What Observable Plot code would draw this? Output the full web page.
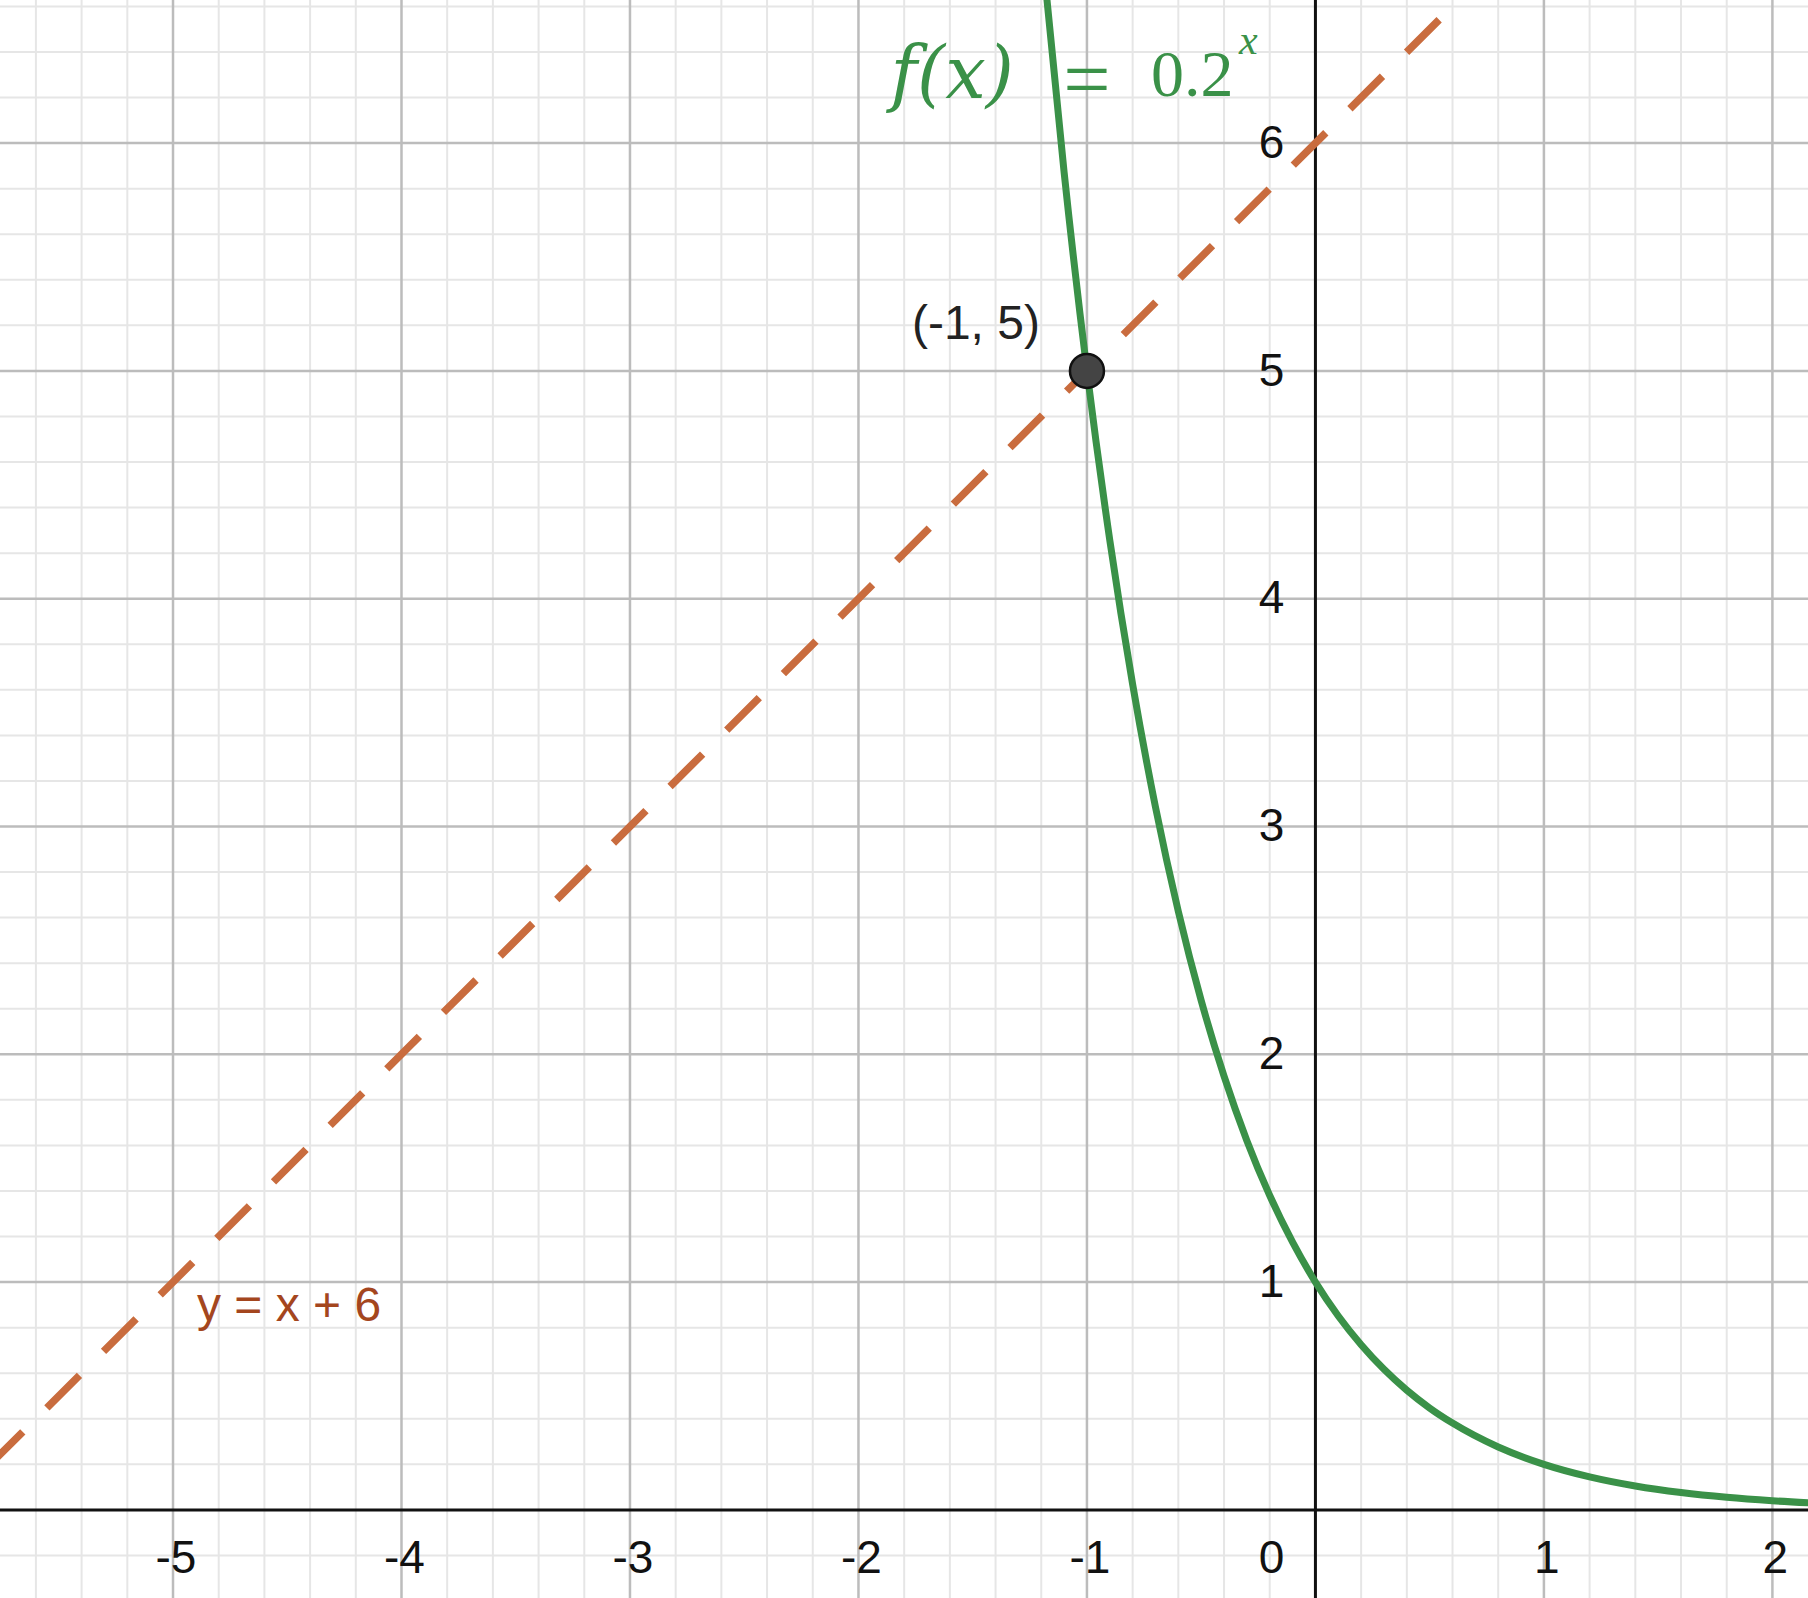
<!DOCTYPE html>
<html>
<head>
<meta charset="utf-8">
<script src="https://cdn.jsdelivr.net/npm/d3@7"></script>
<script src="https://cdn.jsdelivr.net/npm/@observablehq/plot@0.6"></script>
<style>
  html, body { margin: 0; padding: 0; background: #ffffff; }
  #chart svg { display: block; }
</style>
</head>
<body>
<div id="chart"></div>
<script>
// ---- data ----
const xTicks = [-5, -4, -3, -2, -1, 1, 2];
const yTicks = [1, 2, 3, 4, 5, 6];
const originLabel = ["0"];

// f(x) = 0.2^x
const curveX = [-1.18, -1.1, -1.0, -0.9, -0.8, -0.7, -0.6, -0.5, -0.4, -0.3, -0.2, -0.1, 0.0, 0.1, 0.2, 0.3, 0.4, 0.5, 0.6, 0.8, 1.0, 1.2, 1.4, 1.6, 1.8, 2.0, 2.2];
const curveY = [6.68, 5.873, 5.0, 4.257, 3.624, 3.085, 2.627, 2.236, 1.904, 1.621, 1.380, 1.175, 1.0, 0.851, 0.725, 0.617, 0.525, 0.447, 0.381, 0.276, 0.2, 0.145, 0.105, 0.076, 0.055, 0.04, 0.029];

// y = x + 6, dashed line endpoints
const lineX = [-5.8, 0.7];
const lineY = [0.2, 6.7];

// intersection point
const pointX = [-1];
const pointY = [5];
const pointLabel = ["(-1, 5)"];

const lineLabel = ["y = x + 6"];
const lineLabelAt = [{x: -5, y: 1}];

// function label pieces
const fnParts = [
  {x: -1.86, y: 6.30, text: "f(x)", italic: true, size: 72, font: "'DejaVu Serif', serif", anchor: "start"},
  {x: -1.00, y: 6.27, text: "=", italic: false, size: 84, font: "'Liberation Serif', serif", anchor: "middle"},
  {x: -0.72, y: 6.30, text: "0.2", italic: false, size: 66, font: "'Liberation Serif', serif", anchor: "start"},
  {x: -0.335, y: 6.45, text: "x", italic: true, size: 42, font: "'Liberation Serif', serif", anchor: "start"}
];

const xDomain = [-5.755, 2.158];
const yDomain = [-0.389, 6.626];

// ---- table building ----
const curve = curveX.map((x, i) => ({x, y: curveY[i]}));
const line = lineX.map((x, i) => ({x, y: lineY[i]}));
const pts = pointX.map((x, i) => ({x, y: pointY[i], label: pointLabel[i]}));

const minorX = d3.range(-5.8, 2.2001, 0.2).map(v => +v.toFixed(1)).filter(v => Math.abs(v - Math.round(v)) > 1e-6);
const minorY = d3.range(-0.4, 6.6001, 0.2).map(v => +v.toFixed(1)).filter(v => Math.abs(v - Math.round(v)) > 1e-6);
const majorX = [-5, -4, -3, -2, -1, 1, 2];
const majorY = [1, 2, 3, 4, 5, 6];

const green = "#3a9148";
const orange = "#c96c3e";
const orangeText = "#a4461e";
const tickFont = "'Liberation Sans', Arial, sans-serif";

const fnMarks = fnParts.map(p => Plot.text([p], {
  x: "x", y: "y", text: "text",
  fill: green,
  fontSize: p.size,
  fontFamily: p.font,
  fontStyle: p.italic ? "italic" : "normal",
  textAnchor: p.anchor,
  lineAnchor: "middle"
}));

const chart = Plot.plot({
  width: 1808,
  height: 1598,
  margin: 0,
  x: {domain: xDomain, axis: null},
  y: {domain: yDomain, axis: null},
  style: {background: "#ffffff"},
  marks: [
    Plot.ruleX(minorX, {stroke: "#e6e6e6", strokeWidth: 2}),
    Plot.ruleY(minorY, {stroke: "#e6e6e6", strokeWidth: 2}),
    Plot.ruleX(majorX, {stroke: "#bcbcbc", strokeWidth: 2.5}),
    Plot.ruleY(majorY, {stroke: "#bcbcbc", strokeWidth: 2.5}),
    Plot.ruleX([0], {stroke: "#111111", strokeWidth: 3}),
    Plot.ruleY([0], {stroke: "#111111", strokeWidth: 3}),
    // tick labels
    Plot.text(xTicks, {x: d => d, y: 0, text: d => String(d), dy: 48, dx: 3,
      fontSize: 46, fontFamily: tickFont, fill: "#111111", textAnchor: "middle", lineAnchor: "middle"}),
    Plot.text(yTicks, {x: 0, y: d => d, text: d => String(d), dx: -44,
      fontSize: 46, fontFamily: tickFont, fill: "#111111", textAnchor: "middle", lineAnchor: "middle"}),
    Plot.text(originLabel, {x: 0, y: 0, text: d => d, dx: -44, dy: 48,
      fontSize: 46, fontFamily: tickFont, fill: "#111111", textAnchor: "middle", lineAnchor: "middle"}),
    // dashed line y = x + 6
    Plot.line(line, {x: "x", y: "y", stroke: orange, strokeWidth: 7.5,
      strokeDasharray: "46,34", strokeLinecap: "butt", clip: true}),
    // green curve
    Plot.line(curve, {x: "x", y: "y", stroke: green, strokeWidth: 7,
      curve: "monotone-x", clip: true}),
    // intersection point
    Plot.dot(pts, {x: "x", y: "y", r: 17, fill: "#444444", stroke: "#111111", strokeWidth: 2.5}),
    Plot.text(pts, {x: "x", y: "y", text: "label", dx: -111, dy: -47,
      fontSize: 48, fontFamily: tickFont, fill: "#222222", textAnchor: "middle", lineAnchor: "middle"}),
    // line label
    Plot.text(lineLabelAt, {x: "x", y: "y", text: () => lineLabel[0], dx: 24, dy: 24,
      fontSize: 48, fontFamily: tickFont, fill: orangeText, textAnchor: "start", lineAnchor: "middle"}),
    ...fnMarks
  ]
});

document.getElementById("chart").appendChild(chart);
</script>
</body>
</html>
